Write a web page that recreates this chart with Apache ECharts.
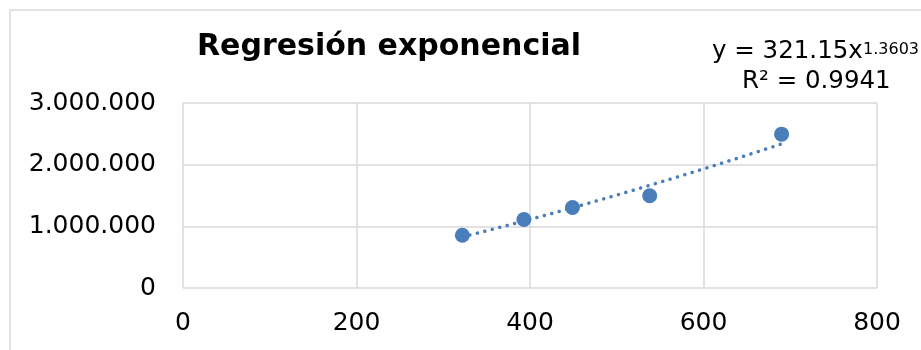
<!DOCTYPE html>
<html>
<head>
<meta charset="utf-8">
<script src="https://cdn.jsdelivr.net/npm/echarts@6/dist/echarts.min.js"></script>
<style>
  html, body { margin: 0; padding: 0; background: #ffffff; }
  #chart { width: 921px; height: 350px; }
</style>
</head>
<body>
<div id="chart"></div>
<script>
// Observed points (x, y)
const xValues = [322, 393, 449, 538, 690];
const yValues = [855000, 1110000, 1305000, 1495000, 2495000];

// Power trendline y = a * x^b, as printed in the equation label
const trendA = 321.15;
const trendB = 1.3603;
const rSquared = 0.9941;

const titleText = 'Regresión exponencial';
const FONT = '"DejaVu Sans", sans-serif';

const points = xValues.map((x, i) => [x, yValues[i]]);

// Trendline sampled across the data range
const xMin = Math.min(...xValues);
const xMax = Math.max(...xValues);
const trendPoints = [];
const steps = 60;
for (let i = 0; i <= steps; i++) {
  const x = xMin + (xMax - xMin) * i / steps;
  trendPoints.push([x, trendA * Math.pow(x, trendB)]);
}

function thousands(v) {
  return String(Math.round(v)).replace(/\B(?=(\d{3})+(?!\d))/g, '.');
}

const chart = echarts.init(document.getElementById('chart'), null, { renderer: 'canvas' });

chart.setOption({
  animation: false,
  backgroundColor: '#ffffff',
  grid: { left: 183, right: 44, top: 103, bottom: 62, containLabel: false },
  xAxis: {
    type: 'value',
    min: 0, max: 800, interval: 200,
    axisLine: { show: false },
    axisTick: { show: false },
    splitLine: { show: true, lineStyle: { color: '#d9d9d9', width: 1.5 } },
    axisLabel: { color: '#000000', fontFamily: FONT, fontSize: 25, margin: 23 }
  },
  yAxis: {
    type: 'value',
    min: 0, max: 3000000, interval: 1000000,
    axisLine: { show: false },
    axisTick: { show: false },
    splitLine: { show: true, lineStyle: { color: '#d9d9d9', width: 1.5 } },
    axisLabel: { color: '#000000', fontFamily: FONT, fontSize: 25, margin: 27, formatter: thousands }
  },
  graphic: [
    {
      type: 'rect', silent: true, z: -1,
      shape: { x: 10, y: 10, width: 1000, height: 1000 },
      style: { fill: 'none', stroke: '#d9d9d9', lineWidth: 1.5 }
    },
    {
      type: 'text', x: 389, y: 47,
      style: { text: titleText, fill: '#000000', font: 'bold 30px ' + FONT, textAlign: 'center', textVerticalAlign: 'middle' }
    },
    {
      type: 'text', x: 712, y: 52,
      style: { text: 'y = ' + trendA.toFixed(2) + 'x', fill: '#000000', font: '24.5px ' + FONT, textAlign: 'left', textVerticalAlign: 'middle' }
    },
    {
      type: 'text', x: 863, y: 50,
      style: { text: trendB.toFixed(4), fill: '#000000', font: '16px ' + FONT, textAlign: 'left', textVerticalAlign: 'middle' }
    },
    {
      type: 'text', x: 742, y: 82,
      style: { text: 'R² = ' + rSquared.toFixed(4), fill: '#000000', font: '24.5px ' + FONT, textAlign: 'left', textVerticalAlign: 'middle' }
    }
  ],
  series: [
    {
      type: 'scatter',
      data: points,
      symbol: 'circle',
      symbolSize: 15,
      itemStyle: { color: '#4a7ebb', opacity: 1 },
      z: 2
    },
    {
      type: 'line',
      data: trendPoints,
      showSymbol: false,
      symbol: 'none',
      smooth: false,
      lineStyle: { color: '#4a7ebb', width: 3.5, type: [0.1, 7.6], cap: 'round', opacity: 1 },
      z: 3
    }
  ]
});
</script>
</body>
</html>
